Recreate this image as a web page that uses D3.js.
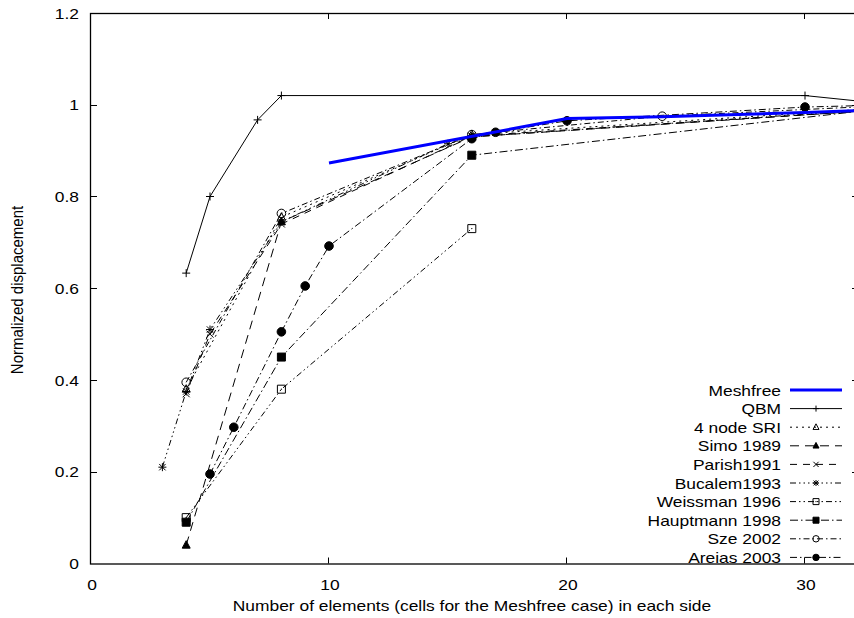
<!DOCTYPE html>
<html>
<head>
<meta charset="utf-8">
<script src="https://cdn.jsdelivr.net/npm/d3@7"></script>
<style>
  html, body { margin: 0; padding: 0; background: #fff; }
  svg { display: block; }
  text { font-family: "Liberation Sans", Arial, Helvetica, sans-serif; font-size: 15px; fill: #000; }
</style>
</head>
<body>
<svg id="chart" width="854" height="618"></svg>
<script>
// ---------- data ----------
const xTicks = [0, 10, 20, 30];
const yTicks = [0, 0.2, 0.4, 0.6, 0.8, 1, 1.2];
const yTickLabels = ["0", "0.2", "0.4", "0.6", "0.8", "1", "1.2"];
const xLabel = "Number of elements (cells for the Meshfree case) in each side";
const yLabel = "Normalized displacement";

const seriesNames = ["Meshfree", "QBM", "4 node SRI", "Simo 1989", "Parish1991",
  "Bucalem1993", "Weissman 1996", "Hauptmann 1998", "Sze 2002", "Areias 2003"];

const meshfreeX = [10, 20, 24, 30, 33];
const meshfreeY = [0.873, 0.970, 0.974, 0.983, 0.989];

const qbmX = [4, 5, 7, 8, 30, 33];
const qbmY = [0.633, 0.800, 0.967, 1.020, 1.020, 1.004];

const sriX = [4, 8, 16, 33];
const sriY = [0.380, 0.755, 0.935, 0.992];

const simoX = [4, 8, 16, 33];
const simoY = [0.040, 0.745, 0.930, 0.988];

const parishX = [4, 5, 8, 16, 33];
const parishY = [0.370, 0.500, 0.740, 0.932, 0.988];

const bucalemX = [3, 4, 5, 8, 15, 16, 33];
const bucalemY = [0.210, 0.375, 0.510, 0.745, 0.915, 0.930, 0.990];

const weissmanX = [4, 8, 16];
const weissmanY = [0.100, 0.380, 0.730];

const hauptmannX = [4, 8, 16, 33];
const hauptmannY = [0.090, 0.450, 0.890, 0.990];

const szeX = [4, 8, 16, 24, 33];
const szeY = [0.395, 0.763, 0.935, 0.975, 0.997];

const areiasX = [5, 6, 8, 9, 10, 16, 17, 20, 30, 33];
const areiasY = [0.195, 0.297, 0.505, 0.605, 0.692, 0.926, 0.940, 0.965, 0.995, 0.999];

// ---------- styles ----------
const styles = [
  { color: "#0000ff", width: 3,   dash: null,              marker: null },
  { color: "#000",    width: 1,   dash: null,              marker: "plus" },
  { color: "#000",    width: 1,   dash: "2,4",             marker: "triOpen" },
  { color: "#000",    width: 1,   dash: "9,6",             marker: "triFilled" },
  { color: "#000",    width: 1,   dash: "7,6",             marker: "cross" },
  { color: "#000",    width: 1,   dash: "6,3,1.5,3,1.5,3,1.5,3", marker: "star" },
  { color: "#000",    width: 1,   dash: "6,3,1.5,3,1.5,3", marker: "sqOpen" },
  { color: "#000",    width: 1,   dash: "8,3,1.5,3",       marker: "sqFilled" },
  { color: "#000",    width: 1,   dash: "6,3,1.5,3",       marker: "circOpen" },
  { color: "#000",    width: 1,   dash: "7,3,1.5,3",       marker: "circFilled" }
];
const seriesData = [
  [meshfreeX, meshfreeY], [qbmX, qbmY], [sriX, sriY], [simoX, simoY],
  [parishX, parishY], [bucalemX, bucalemY], [weissmanX, weissmanY],
  [hauptmannX, hauptmannY], [szeX, szeY], [areiasX, areiasY]
];

// ---------- layout ----------
const svg = d3.select("#chart");
const pLeft = 91, pTop = 13, pBottom = 563.5, pRight = 858;
const x = d3.scaleLinear().domain([0, 32.2]).range([pLeft, pLeft + 32.2 * 23.8]);
const y = d3.scaleLinear().domain([0, 1.2]).range([pBottom, pTop]);
const SX = 1.16; // horizontal stretch of glyphs seen in the reference

function txt(g, px, py, s, anchor) {
  return g.append("text")
    .attr("transform", `translate(${px},${py}) scale(${SX},1)`)
    .attr("text-anchor", anchor).text(s);
}

svg.append("defs").append("clipPath").attr("id", "clip")
  .append("rect").attr("x", pLeft).attr("y", pTop)
  .attr("width", pRight - pLeft).attr("height", pBottom - pTop);

// frame
svg.append("rect").attr("x", pLeft - 0.5).attr("y", pTop + 0.5)
  .attr("width", pRight - pLeft).attr("height", pBottom - pTop)
  .attr("fill", "none").attr("stroke", "#000").attr("stroke-width", 1.3);

// ticks (inward, all four sides)
const tl = 6;
const tickG = svg.append("g").attr("stroke", "#000").attr("stroke-width", 1);
xTicks.forEach(t => {
  const px = Math.round(x(t)) - 0.5;
  if (t > 0) {
    tickG.append("line").attr("x1", px).attr("x2", px).attr("y1", pBottom).attr("y2", pBottom - tl);
    tickG.append("line").attr("x1", px).attr("x2", px).attr("y1", pTop).attr("y2", pTop + tl);
  }
  txt(svg, x(t) + 1, 590, String(t), "middle");
});
yTicks.forEach((t, i) => {
  const py = Math.round(y(t)) + 0.5;
  if (t > 0 && t < 1.2) {
    tickG.append("line").attr("x1", pLeft).attr("x2", pLeft + tl).attr("y1", py).attr("y2", py);
    tickG.append("line").attr("x1", pRight).attr("x2", pRight - tl).attr("y1", py).attr("y2", py);
  }
  txt(svg, 79, y(t) + 5.5, yTickLabels[i], "end");
});

// axis labels
txt(svg, 472, 611, xLabel, "middle");
svg.append("text").attr("transform", `translate(23,290) scale(${SX},1) rotate(-90)`)
  .attr("text-anchor", "middle").text(yLabel);

// ---------- markers ----------
function markerPath(type) {
  const s = 4;
  switch (type) {
    case "plus": return `M${-s},0H${s}M0,${-s}V${s}`;
    case "cross": return `M${-3.5},${-3.5}L3.5,3.5M${-3.5},3.5L3.5,${-3.5}`;
    case "star": return `M${-s},0H${s}M0,${-s}V${s}M${-3.2},${-3.2}L3.2,3.2M${-3.2},3.2L3.2,${-3.2}`;
    case "sqOpen": case "sqFilled": return `M-4,-4H4V4H-4Z`;
    case "triOpen": case "triFilled": return `M0,-4.5L4,3L-4,3Z`;
    case "circOpen": case "circFilled": return d3.arc()({innerRadius: 0, outerRadius: 4.3, startAngle: 0, endAngle: 2 * Math.PI});
  }
  return "";
}
function drawMarker(g, type, px, py, k) {
  if (!type) return;
  k = k || 1;
  const filled = /Filled/.test(type);
  g.append("path").attr("d", markerPath(type))
    .attr("transform", `translate(${px},${py}) scale(${k})`)
    .attr("fill", filled ? "#000" : "none")
    .attr("stroke", "#000").attr("stroke-width", 1 / k);
  if (type === "sqOpen") {
    g.append("circle").attr("cx", px).attr("cy", py).attr("r", 0.7).attr("fill", "#000");
  }
}

// ---------- series ----------
const plot = svg.append("g").attr("clip-path", "url(#clip)");
const line = d3.line().x(d => x(d[0])).y(d => y(d[1]));

for (let i = seriesData.length - 1; i >= 0; i--) {
  const [xs, ys] = seriesData[i];
  const st = styles[i];
  const pts = xs.map((v, k) => [v, ys[k]]);
  plot.append("path").datum(pts).attr("d", line)
    .attr("fill", "none").attr("stroke", st.color).attr("stroke-width", st.width)
    .attr("stroke-dasharray", st.dash);
  pts.forEach(p => drawMarker(plot, st.marker, x(p[0]), y(p[1]), 1));
}

// ---------- legend ----------
const lg = svg.append("g");
const ly0 = 390, ldy = 18.6, textX = 781, sx1 = 790, sx2 = 842;
seriesNames.forEach((name, i) => {
  const yy = ly0 + i * ldy;
  const st = styles[i];
  txt(lg, textX, yy + 5.5, name, "end");
  lg.append("line").attr("x1", sx1).attr("x2", sx2).attr("y1", yy).attr("y2", yy)
    .attr("stroke", st.color).attr("stroke-width", st.width)
    .attr("stroke-dasharray", st.dash);
  drawMarker(lg, st.marker, (sx1 + sx2) / 2, yy, 0.75);
});
</script>
</body>
</html>
